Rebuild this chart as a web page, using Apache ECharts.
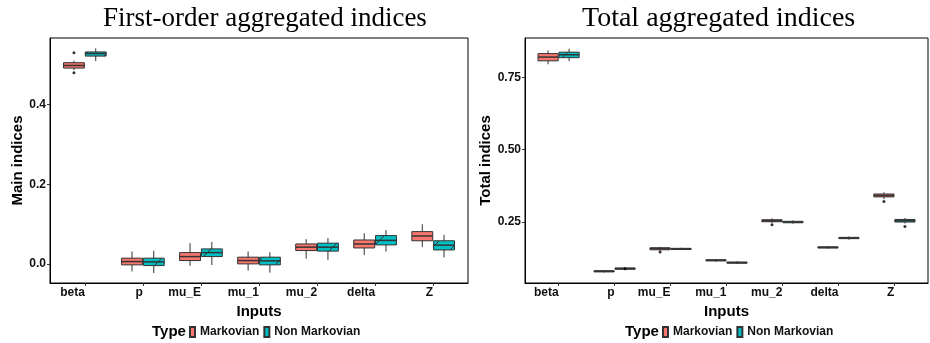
<!DOCTYPE html>
<html>
<head>
<meta charset="utf-8">
<script src="https://cdn.jsdelivr.net/npm/echarts@6/dist/echarts.min.js"></script>
<style>
html, body { margin: 0; padding: 0; background: #fff; }
#chart { width: 930px; height: 343px; }
</style>
</head>
<body>
<div id="chart"></div>
<script>
const inputs = ['beta', 'p', 'mu_E', 'mu_1', 'mu_2', 'delta', 'Z'];
const seriesNames = ['Markovian', 'Non Markovian'];

// each row: [low whisker, Q1, median, Q3, high whisker]
const mainMarkov = [
    [0.4865, 0.4915, 0.498, 0.505, 0.51],
    [-0.019, -0.0025, 0.0058, 0.0143, 0.031],
    [-0.005, 0.0083, 0.0183, 0.0283, 0.052],
    [-0.0168, 0.0, 0.0083, 0.0168, 0.031],
    [0.0133, 0.0334, 0.042, 0.050, 0.062],
    [0.022, 0.040, 0.050, 0.060, 0.077],
    [0.042, 0.058, 0.070, 0.081, 0.0996]
];
const mainNonMarkov = [
    [0.509, 0.5216, 0.528, 0.532, 0.541],
    [-0.023, -0.0043, 0.005, 0.0143, 0.033],
    [-0.003, 0.0183, 0.0283, 0.0376, 0.055],
    [-0.022, -0.0025, 0.0075, 0.0168, 0.029],
    [0.010, 0.032, 0.042, 0.052, 0.065],
    [0.031, 0.0476, 0.059, 0.071, 0.085],
    [0.016, 0.035, 0.047, 0.058, 0.073]
];
// outliers: [input index, value]
const mainMarkovOut = [[0, 0.53], [0, 0.48]];
const mainNonMarkovOut = [];

const totalMarkov = [
    [0.795, 0.807, 0.82, 0.832, 0.843],
    [0.074, 0.0765, 0.0785, 0.0805, 0.083],
    [0.149, 0.153, 0.157, 0.160, 0.163],
    [0.112, 0.1145, 0.1165, 0.1185, 0.121],
    [0.246, 0.250, 0.2535, 0.257, 0.262],
    [0.157, 0.159, 0.1614, 0.163, 0.166],
    [0.328, 0.336, 0.341, 0.346, 0.352]
];
const totalNonMarkov = [
    [0.806, 0.818, 0.828, 0.837, 0.849],
    [0.083, 0.0855, 0.088, 0.090, 0.093],
    [0.152, 0.154, 0.156, 0.158, 0.160],
    [0.104, 0.1065, 0.1086, 0.1105, 0.113],
    [0.243, 0.2465, 0.249, 0.2515, 0.255],
    [0.188, 0.1915, 0.1938, 0.196, 0.199],
    [0.244, 0.249, 0.2534, 0.258, 0.263]
];
const totalMarkovOut = [[2, 0.1455], [4, 0.2397], [6, 0.32]];
const totalNonMarkovOut = [[1, 0.0875], [6, 0.2338]];

const mainTicks = [0, 0.2, 0.4];
const totalTicks = [0.25, 0.5, 0.75];

const RED = '#F8766D';
const CYAN = '#00BFC4';
const EDGE = '#333333';
const BOXW = 0.36;
const DODGE = 0.1875;

// striped fill for the non markovian boxes
function stripes() {
    const c = document.createElement('canvas');
    c.width = 20; c.height = 20;
    const g = c.getContext('2d');
    g.fillStyle = CYAN;
    g.fillRect(0, 0, 20, 20);
    g.strokeStyle = EDGE;
    g.lineWidth = 1;
    g.beginPath();
    g.moveTo(0, 20); g.lineTo(20, 0);
    g.moveTo(-2, 2); g.lineTo(2, -2);
    g.moveTo(18, 22); g.lineTo(22, 18);
    g.stroke();
    return { image: c, repeat: 'repeat' };
}
const CYAN_FILL = stripes();

function boxRender(offset, fill) {
    return function (params, api) {
        const x = api.value(0) + offset;
        const lo = api.coord([x, api.value(1)]);
        const q1 = api.coord([x, api.value(2)]);
        const md = api.coord([x, api.value(3)]);
        const q3 = api.coord([x, api.value(4)]);
        const hi = api.coord([x, api.value(5)]);
        const w = api.size([BOXW, 0])[0];
        return {
            type: 'group',
            children: [
                { type: 'line', shape: { x1: lo[0], y1: lo[1], x2: hi[0], y2: hi[1] }, style: { stroke: EDGE, lineWidth: 1 } },
                { type: 'rect', shape: { x: q3[0] - w / 2, y: q3[1], width: w, height: Math.max(q1[1] - q3[1], 1) },
                  style: { fill: fill, stroke: EDGE, lineWidth: 1 } },
                { type: 'line', shape: { x1: md[0] - w / 2, y1: md[1], x2: md[0] + w / 2, y2: md[1] }, style: { stroke: EDGE, lineWidth: 1.5 } }
            ]
        };
    };
}

function boxSeries(name, rows, idx, offset, fill) {
    return {
        name: name,
        type: 'custom',
        xAxisIndex: idx,
        yAxisIndex: idx,
        itemStyle: { color: fill, borderColor: EDGE, borderWidth: 1 },
        renderItem: boxRender(offset, fill),
        encode: { x: 0, y: [1, 2, 3, 4, 5] },
        data: rows.map((r, i) => [i].concat(r)),
        silent: true
    };
}

function outSeries(name, pts, idx, offset) {
    return {
        name: name,
        type: 'scatter',
        xAxisIndex: idx,
        yAxisIndex: idx,
        symbolSize: 3,
        itemStyle: { color: '#000' },
        data: pts.map(p => [p[0] + offset, p[1]]),
        silent: true
    };
}

const labelFont = { fontFamily: 'Liberation Sans', fontWeight: 'bold', fontSize: 12, color: '#111' };
const legendFont = { fontFamily: 'Liberation Sans', fontWeight: 'bold', fontSize: 12, color: '#111' };
const nameFont = { fontFamily: 'Liberation Sans', fontWeight: 'bold', fontSize: 15, color: '#000' };
const titleFont = { fontFamily: 'Liberation Serif', fontWeight: 'normal', color: '#000' };

function xAxisFor(idx) {
    return {
        type: 'value',
        gridIndex: idx,
        min: -0.6,
        max: 6.6,
        name: 'Inputs',
        nameLocation: 'middle',
        nameGap: 16,
        nameTextStyle: nameFont,
        splitLine: { show: false },
        axisLine: { show: true, onZero: false, lineStyle: { color: '#000', width: 1 } },
        axisTick: { show: true, length: 3, customValues: [0, 1, 2, 3, 4, 5, 6], lineStyle: { color: '#333' } },
        axisLabel: Object.assign({
            customValues: [0, 1, 2, 3, 4, 5, 6],
            formatter: v => inputs[Math.round(v)],
            align: 'right',
            margin: 4
        }, labelFont)
    };
}

function yAxisFor(idx, name, min, max, ticks, digits, gap) {
    return {
        type: 'value',
        gridIndex: idx,
        min: min,
        max: max,
        name: name,
        nameLocation: 'middle',
        nameGap: gap,
        nameTextStyle: nameFont,
        splitLine: { show: false },
        axisLine: { show: true, onZero: false, lineStyle: { color: '#000', width: 1 } },
        axisTick: { show: true, length: 3, customValues: ticks, lineStyle: { color: '#333' } },
        axisLabel: Object.assign({
            customValues: ticks,
            formatter: v => v.toFixed(digits),
            margin: 4
        }, labelFont)
    };
}

const chart = echarts.init(document.getElementById('chart'), null, { renderer: 'canvas' });

const option = {
    backgroundColor: '#fff',
    animation: false,
    title: [
        { text: 'First-order aggregated indices', left: 103, top: 5, padding: 0,
          textStyle: Object.assign({ fontSize: 27 }, titleFont) },
        { text: 'Total aggregated indices', left: 582, top: 5, padding: 0,
          textStyle: Object.assign({ fontSize: 28 }, titleFont) },
        { text: 'Type', left: 152, top: 324, padding: 0, textStyle: nameFont },
        { text: 'Type', left: 625, top: 324, padding: 0, textStyle: nameFont }
    ],
    legend: [
        { left: 189, top: 326, padding: 0, itemGap: 4, itemWidth: 5, itemHeight: 10, icon: 'rect',
          data: seriesNames, textStyle: legendFont, selectedMode: false },
        { left: 662, top: 326, padding: 0, itemGap: 4, itemWidth: 5, itemHeight: 10, icon: 'rect',
          data: seriesNames, textStyle: legendFont, selectedMode: false }
    ],
    grid: [
        { left: 50, top: 38, width: 418, height: 245, show: true, borderColor: '#000', borderWidth: 1 },
        { left: 525, top: 38, width: 403, height: 245, show: true, borderColor: '#000', borderWidth: 1 }
    ],
    xAxis: [xAxisFor(0), xAxisFor(1)],
    yAxis: [
        yAxisFor(0, 'Main indices', -0.048, 0.567, mainTicks, 1, 25),
        yAxisFor(1, 'Total indices', 0.038, 0.886, totalTicks, 2, 31)
    ],
    series: [
        boxSeries('Markovian', mainMarkov, 0, -DODGE, RED),
        boxSeries('Non Markovian', mainNonMarkov, 0, DODGE, CYAN_FILL),
        outSeries('Markovian', mainMarkovOut, 0, -DODGE),
        outSeries('Non Markovian', mainNonMarkovOut, 0, DODGE),
        boxSeries('Markovian', totalMarkov, 1, -DODGE, RED),
        boxSeries('Non Markovian', totalNonMarkov, 1, DODGE, CYAN_FILL),
        outSeries('Markovian', totalMarkovOut, 1, -DODGE),
        outSeries('Non Markovian', totalNonMarkovOut, 1, DODGE)
    ]
};

chart.setOption(option);
</script>
</body>
</html>
